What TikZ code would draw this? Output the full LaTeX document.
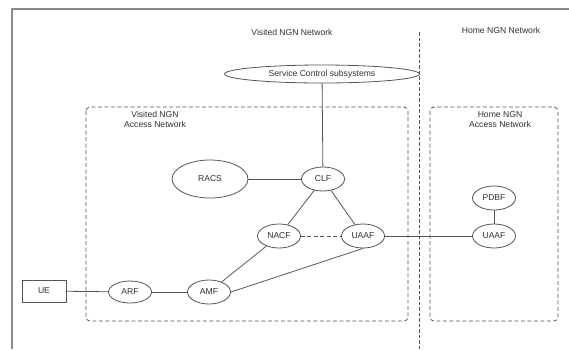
\documentclass[tikz,border=0pt]{standalone}
\usepackage{fontspec}
\setmainfont{Liberation Sans}
\usetikzlibrary{shapes.geometric}
\definecolor{linec}{HTML}{555555}
\definecolor{framec}{HTML}{8A8A8A}
\definecolor{textc}{HTML}{303030}
\begin{document}
\begin{tikzpicture}[x=1pt,y=-1pt,
  every node/.style={font=\fontsize{8.6}{10.5}\selectfont, text=textc},
  oval/.style={ellipse, draw=linec, line width=0.8pt, minimum width=43pt, minimum height=24pt, inner sep=0pt},
  conn/.style={draw=linec, line width=0.8pt},
  regionbox/.style={draw=linec, line width=0.8pt, dash pattern=on 4pt off 2.5pt, rounded corners=4pt},
  divider/.style={draw=linec, line width=0.7pt, dash pattern=on 3.5pt off 2pt}]
\useasboundingbox (0,0) rectangle (569,349);
% outer frame (top and left edges visible)
\draw[framec, line width=1.4pt] (569,9) -- (12,9) -- (12,349);
% divider
\coordinate (dtop) at (419,32);
\coordinate (dbot) at (419,349);
\draw[divider] (dtop) -- (dbot);
% titles
\node (vtitle) at (292,32) {Visited NGN Network};
\node (htitle) at (501,30) {Home NGN Network};
% access network boxes
\draw[regionbox] (86,107) rectangle (408,321);
\draw[regionbox] (430,107) rectangle (558,321);
\node[align=center] (vlab) at (155,119.5) {Visited NGN\\Access Network};
\node[align=center] (hlab) at (500,119.5) {Home NGN\\Access Network};
% nodes
\node[oval, minimum width=195pt, minimum height=18pt] (scs) at (322,74) {Service Control subsystems};
\node[oval, minimum width=76pt, minimum height=38pt] (racs) at (210,179) {RACS};
\node[oval] (clf) at (323,179) {CLF};
\node[oval] (nacf) at (279,236) {NACF};
\node[oval] (uaaf) at (363,236) {UAAF};
\node[oval] (pdbf) at (494,198) {PDBF};
\node[oval] (uaafh) at (494,236) {UAAF};
\node[oval, minimum height=22pt] (arf) at (130,292) {ARF};
\node[oval] (amf) at (209,292) {AMF};
\node[draw=linec, line width=0.8pt, minimum width=44pt, minimum height=22pt, inner sep=0pt] (ue) at (44,291) {UE};
% connectors
\draw[conn] (scs) -- (clf);
\draw[conn] (racs) -- (clf);
\draw[conn] (clf) -- (nacf);
\draw[conn] (clf) -- (uaaf);
\draw[conn, dash pattern=on 4pt off 2.5pt] (nacf) -- (uaaf);
\draw[conn] (amf) -- (nacf);
\draw[conn] (amf.east) -- (uaaf.south);
\draw[conn] (uaaf) -- (uaafh);
\draw[conn] (pdbf) -- (uaafh);
\draw[conn] (ue) -- (arf);
\draw[conn] (arf) -- (amf);
\end{tikzpicture}
\end{document}
